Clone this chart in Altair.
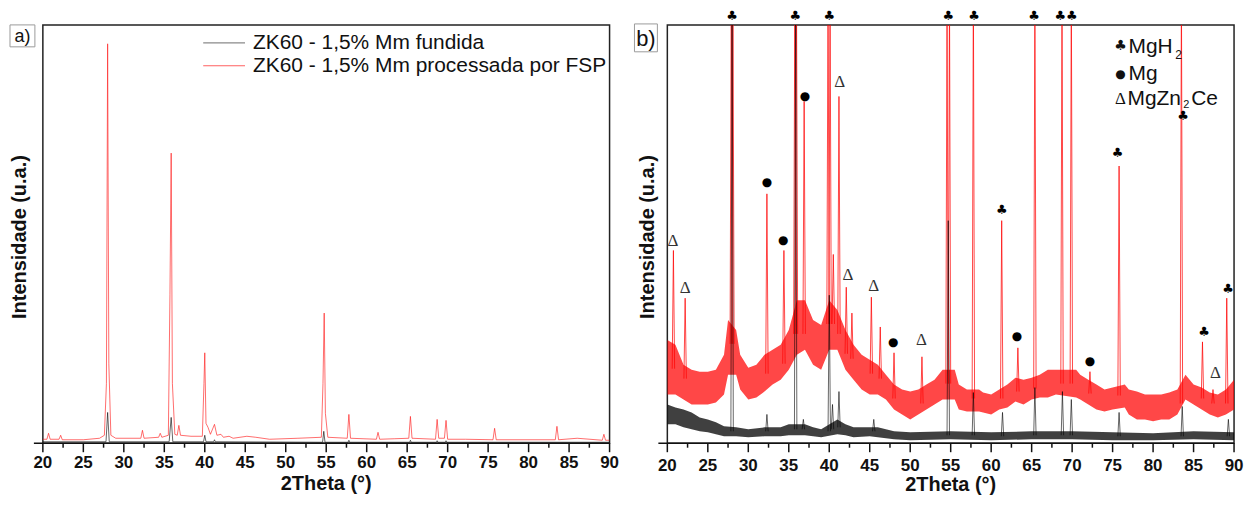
import altair as alt
import pandas as pd

# ---------------- data: panel a) (values = intensity, arbitrary units) ----------------
a_red_x = [20.0, 20.5, 20.7, 20.9, 22.0, 22.2, 22.4, 25.0, 27.0, 27.6, 27.85, 28.0, 28.15, 28.4, 29.0,
           32.1, 32.3, 32.5, 34.3, 34.5, 34.7, 35.5, 35.7, 35.85, 36.0, 36.3, 36.6, 36.8, 37.0, 38.3,
           39.7, 39.9, 40.0, 40.15, 40.4, 40.7, 41.2, 41.5, 42.0, 42.3, 43.0, 43.5, 45.2, 46.3, 48.0,
           51.5, 54.4, 54.6, 54.75, 54.9, 55.2, 57.6, 57.8, 58.0, 61.2, 61.4, 61.6, 63.4, 65.2, 65.4,
           65.6, 68.5, 68.7, 68.9, 69.6, 69.8, 70.0, 72.2, 75.6, 75.8, 76.0, 83.3, 83.5, 83.7, 86.0,
           89.1, 89.3, 89.5, 90.0]
a_red_y = [4, 4, 10, 4, 4, 8, 3.5, 3.5, 5, 8, 60, 402, 80, 8, 5,
           5, 13, 5, 6, 10, 6, 8, 150, 292, 60, 9, 8, 18, 8, 7,
           7, 60, 91, 20, 16, 9, 19, 8, 9, 6, 7, 5, 7, 6, 4,
           5, 6, 60, 131, 30, 6, 5, 29, 5, 4, 11, 4, 4.5, 5, 27,
           5, 4, 24, 5, 5, 23, 4, 4, 3.5, 15, 3.5, 3.5, 17, 3.5, 5,
           3, 9, 3, 3]

a_blk_x = [20.0, 27.8, 28.0, 28.2, 35.6, 35.85, 36.05, 39.85, 40.0, 40.15, 41.1, 41.2, 41.3, 54.55, 54.7,
           54.85, 57.7, 57.8, 57.9, 65.3, 65.4, 65.5, 68.6, 68.7, 68.8, 69.7, 69.8, 69.9, 90.0]
a_blk_y = [1.5, 1.5, 31, 1.5, 1.5, 26, 1.5, 1.5, 8, 1.5, 1.5, 3.5, 1.5, 1, 12,
           1, 1, 3, 1, 1, 3, 1, 1, 2.5, 1, 1, 2.5, 1, 1]

# ---------------- data: panel b) ----------------
# noise band of the red (FSP) pattern: lower / upper envelope
b_red_bx = [20, 21, 22, 23, 24, 25, 26, 27, 27.5, 28.5, 29, 30, 31, 32, 33, 34, 35, 36, 37, 38, 39, 40,
            41, 42, 43, 44, 45, 46, 47, 48, 49, 50, 51, 52, 53, 54, 55.5, 56, 57, 58.5, 59, 60, 61, 62,
            63, 64, 65, 66, 67, 68, 70.5, 71, 72, 73, 74, 75, 76.5, 77, 78, 79, 80, 81, 82, 83, 84, 85,
            86, 87, 88, 89, 90]
b_red_hi = [104, 99, 79, 74, 72, 72, 74, 89, 124, 114, 89, 76, 79, 89, 94, 99, 114, 144, 144, 124, 119, 144,
            134, 114, 99, 89, 84, 79, 69, 59, 54, 52, 54, 59, 64, 74, 74, 59, 54, 54, 51, 49, 54, 59,
            66, 64, 66, 69, 74, 74, 74, 69, 64, 59, 54, 56, 59, 54, 52, 49, 49, 49, 51, 54, 69, 59,
            56, 51, 49, 54, 64]
b_red_lo = [49, 49, 44, 39, 39, 39, 41, 49, 69, 69, 54, 44, 46, 52, 59, 64, 74, 89, 94, 79, 74, 94,
            94, 74, 64, 54, 49, 49, 44, 34, 29, 24, 29, 34, 39, 44, 44, 34, 32, 32, 31, 29, 34, 36,
            42, 39, 44, 46, 46, 49, 46, 44, 39, 34, 32, 34, 36, 29, 24, 24, 22, 24, 24, 29, 44, 39,
            34, 29, 26, 29, 34]
# red peaks: position, apex, foot
b_red_px = [20.75, 22.2, 27.9, 28.1, 32.3, 34.4, 35.75, 35.95, 36.9, 39.85, 40.1, 40.5, 41.2, 42.1, 42.8,
            45.2, 46.3, 48.0, 51.45, 54.55, 54.85, 57.8, 61.3, 63.3, 65.4, 68.75, 69.9, 72.2, 75.8,
            83.5, 86.1, 87.4, 89.1]
b_red_top = [194, 146, 460, 460, 251, 194, 460, 460, 344, 460, 460, 190, 349, 157, 131,
             147, 117, 91, 87, 460, 460, 460, 224, 96, 460, 460, 460, 72, 279,
             460, 102, 54, 146]
b_red_foot = [75, 65, 100, 100, 70, 80, 110, 110, 110, 120, 120, 120, 110, 90, 85,
              70, 65, 45, 40, 60, 60, 45, 45, 52, 55, 60, 60, 50, 48,
              40, 45, 40, 40]

# noise band of the black (as-cast) pattern
b_blk_bx = [20, 21, 22, 23, 24, 25, 26, 27, 28.5, 30, 32, 34, 35, 37, 38, 39, 41, 42, 43, 45, 46, 48,
            50, 55, 60, 65, 70, 75, 80, 85, 90]
b_blk_hi = [39, 36, 34, 31, 26, 24, 21, 17, 16, 14, 16, 16, 19, 19, 16, 14, 24, 19, 16, 16, 16, 12,
            11, 12, 11, 12, 12, 11, 10, 12, 11]
b_blk_lo = [19, 19, 16, 14, 12, 11, 9, 7, 7, 6, 7, 7, 8, 8, 7, 6, 9, 8, 6, 7, 6, 4,
            3, 4, 3, 4, 4, 3, 3, 4, 3]
b_blk_px = [28.0, 32.3, 35.85, 36.8, 40.0, 40.4, 41.2, 45.5, 54.7, 57.8, 61.4, 65.4, 68.8, 69.9,
            75.8, 83.6, 89.3]
b_blk_top = [460, 29, 460, 24, 149, 39, 52, 24, 224, 51, 31, 56, 52, 44, 31, 37, 24]
b_blk_foot = [12, 12, 14, 14, 12, 14, 16, 12, 8, 8, 7, 8, 8, 8, 7, 7, 7]

# phase markers
clubs_x = [28.0, 35.8, 40.0, 54.7, 57.9, 65.3, 68.55, 69.95, 83.7, 75.6, 61.3, 86.3, 89.25]
clubs_y = [429.5, 429.5, 429.5, 429.5, 429.5, 429.5, 429.5, 429.5, 329, 292, 235, 112, 155]
dots_x = [32.3, 34.3, 37.0, 47.9, 63.2, 72.2]
dots_y = [263, 205, 349, 102, 108, 83]
delta_x = [20.7, 22.2, 41.3, 42.3, 45.5, 51.4, 87.7]
delta_y = [204, 156, 364, 169, 158, 104, 71]

x_ticks = [20, 25, 30, 35, 40, 45, 50, 55, 60, 65, 70, 75, 80, 85, 90]
minor_ticks = [22.5, 27.5, 32.5, 37.5, 42.5, 47.5, 52.5, 57.5, 62.5, 67.5, 72.5, 77.5, 82.5, 87.5]

legend_a = ["ZK60 - 1,5% Mm fundida", "ZK60 - 1,5% Mm processada por FSP"]
x_title = "2Theta (°)"
y_title = "Intensidade (u.a.)"

# ---------------- build ----------------
W, H = 569, 420
FONT = "Liberation Sans"
INK = "#111111"
XD = [20, 90]
YD = [0, 421]
HW = 0.15  # drawing half-width of a peak, degrees

XS = alt.Scale(domain=XD, nice=False, zero=False)
YS = alt.Scale(domain=YD, nice=False, zero=False)


def X(field="x"):
    return alt.X(f"{field}:Q", scale=XS, axis=None)


def Y(field="y"):
    return alt.Y(f"{field}:Q", scale=YS, axis=None)


def peaks_df(px, top, foot):
    rows = []
    for i, (p, t, f) in enumerate(zip(px, top, foot)):
        rows += [{"x": p - HW, "y": f, "pk": i}, {"x": p, "y": t, "pk": i}, {"x": p + HW, "y": f, "pk": i}]
    return pd.DataFrame(rows)


d1 = alt.Data(values=[{}])


def txt(s, x, y, size=21, font=FONT, align="left", color=INK, weight="normal", angle=0):
    return alt.Chart(d1).mark_text(text=s, font=font, fontSize=size, color=color, align=align,
                                   baseline="middle", fontWeight=weight, angle=angle).encode(
        x=alt.value(x), y=alt.value(y))


def hline(x0, x1, y, color, width=1.2):
    return alt.Chart(d1).mark_rule(color=color, strokeWidth=width).encode(
        x=alt.value(x0), x2=alt.value(x1), y=alt.value(y))


def label_box(s, x0, x1, y0, y1, size):
    box = alt.Chart(d1).mark_rect(fill="white", stroke="#9a9a9a", strokeWidth=1).encode(
        x=alt.value(x0), x2=alt.value(x1), y=alt.value(y0), y2=alt.value(y1))
    return box + txt(s, (x0 + x1) / 2, (y0 + y1) / 2 + 1, size, FONT, "center")


def axes(lbl_y, title_y, ytitle_x):
    """Hand-drawn axes (bottom line, ticks, labels, titles) positioned by the x scale."""
    major = alt.Chart(pd.DataFrame({"x": x_ticks})).mark_rule(color=INK, strokeWidth=1.5).encode(
        x=X(), y=alt.value(H), y2=alt.value(H + 9))
    minor = alt.Chart(pd.DataFrame({"x": minor_ticks})).mark_rule(color=INK, strokeWidth=1.5).encode(
        x=X(), y=alt.value(H), y2=alt.value(H + 4.5))
    labels = alt.Chart(pd.DataFrame({"x": x_ticks})).mark_text(
        font=FONT, fontSize=17, fontWeight="bold", color=INK, baseline="middle", align="center").encode(
        x=X(), y=alt.value(H + lbl_y), text="x:Q")
    bottom = hline(-9, W, H, INK, 1.5)
    xt = txt(x_title, W / 2, H + title_y, 20, FONT, "center", INK, "bold")
    yt = txt(y_title, ytitle_x, H / 2 + 3, 20, FONT, "center", INK, "bold", 270)
    return alt.layer(major, minor, labels, bottom, xt, yt)


# ----- panel a -----
a_red = pd.DataFrame({"x": a_red_x, "y": a_red_y})
a_blk = pd.DataFrame({"x": a_blk_x, "y": a_blk_y})

pa_red = alt.Chart(a_red).mark_line(color="#ff1a1a", strokeWidth=0.75, opacity=0.85, clip=True).encode(
    x=X(), y=Y(), order="x:Q")
pa_blk = alt.Chart(a_blk).mark_line(color="#000000", strokeWidth=0.75, opacity=0.8, clip=True).encode(
    x=X(), y=Y(), order="x:Q")

leg_a = alt.layer(
    hline(161, 203, 18, "#8a8a8a"), hline(161, 203, 41, "#ff6060"),
    txt(legend_a[0], 211, 18), txt(legend_a[1], 211, 41),
)

panel_a = alt.layer(pa_red, pa_blk, axes(20, 41, -23), leg_a,
                    label_box("a)", -33, -8, 0, 22, 18)).properties(width=W, height=H)

# ----- panel b -----
b_rband = pd.DataFrame({"x": b_red_bx, "lo": b_red_lo, "hi": b_red_hi})
b_kband = pd.DataFrame({"x": b_blk_bx, "lo": b_blk_lo, "hi": b_blk_hi})

pb_rband = alt.Chart(b_rband).mark_area(color="#ff0000", opacity=0.72, clip=True).encode(
    x=X(), y=Y("lo"), y2="hi:Q")
pb_kband = alt.Chart(b_kband).mark_area(color="#000000", opacity=0.75, clip=True).encode(
    x=X(), y=Y("lo"), y2="hi:Q")
pb_rpk = alt.Chart(peaks_df(b_red_px, b_red_top, b_red_foot)).mark_line(
    color="#ff0000", strokeWidth=0.85, opacity=0.85, clip=True).encode(
    x=X(), y=Y(), detail="pk:N", order="x:Q")
pb_kpk = alt.Chart(peaks_df(b_blk_px, b_blk_top, b_blk_foot)).mark_line(
    color="#000000", strokeWidth=0.8, opacity=0.75, clip=True).encode(
    x=X(), y=Y(), detail="pk:N", order="x:Q")

clubs = alt.Chart(pd.DataFrame({"x": clubs_x, "y": clubs_y})).mark_text(
    text="♣", font="DejaVu Sans", fontSize=13, color="#000", baseline="middle").encode(x=X(), y=Y())
dots = alt.Chart(pd.DataFrame({"x": dots_x, "y": dots_y})).mark_text(
    text="●", font="DejaVu Sans", fontSize=12, color="#000", baseline="middle").encode(x=X(), y=Y())
deltas = alt.Chart(pd.DataFrame({"x": delta_x, "y": delta_y})).mark_text(
    text="Δ", font="Liberation Serif", fontSize=17, color="#333", baseline="middle").encode(x=X(), y=Y())

leg_b = alt.layer(
    txt("♣", 455, 21, 14, "DejaVu Sans", "center"), txt("MgH", 463, 22), txt("2", 510, 30, 12),
    txt("●", 455, 49, 12, "DejaVu Sans", "center"), txt("Mg", 463, 49),
    txt("Δ", 455, 74, 17, "Liberation Serif", "center"), txt("MgZn", 462, 74), txt("2", 518, 80, 11),
    txt("Ce", 526, 74),
)

panel_b = alt.layer(pb_rband, pb_kband, pb_rpk, pb_kpk, axes(23, 42, -19), clubs, dots, deltas, leg_b,
                    label_box("b)", -33, -10, -1, 27, 22)).properties(width=W, height=H)

chart = alt.hconcat(panel_a, panel_b, spacing=12).configure_view(
    stroke="#222", strokeWidth=1.5).properties(padding=0, background="white")

chart.save("out.html", embed_options={"renderer": "svg", "actions": False})
